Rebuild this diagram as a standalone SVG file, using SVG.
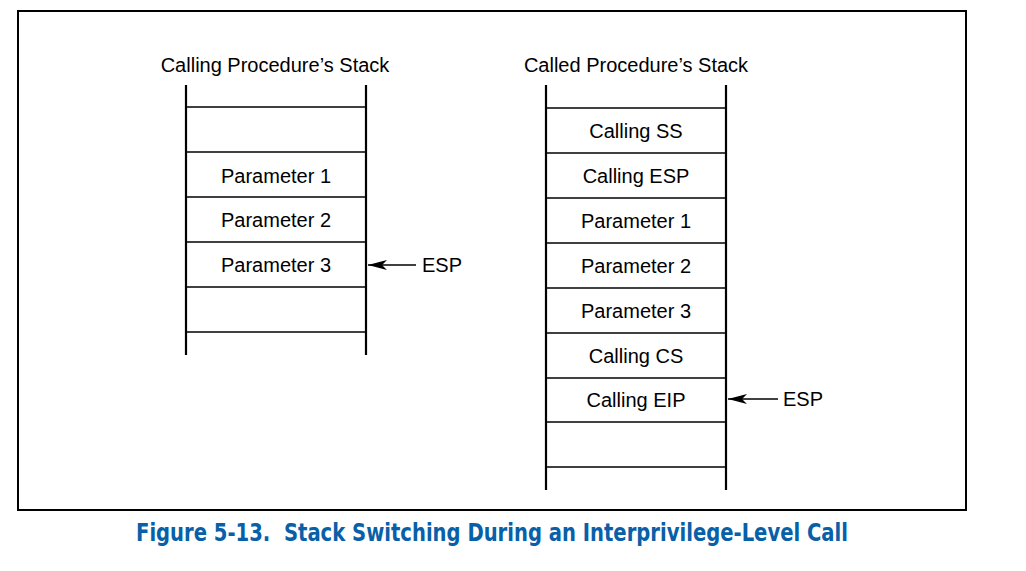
<svg xmlns="http://www.w3.org/2000/svg" width="1026" height="571" viewBox="0 0 1026 571">
<style>
.t{font-family:"Liberation Sans",Arial,sans-serif;font-size:20px;fill:#000;text-anchor:middle}
.e{font-family:"Liberation Sans",Arial,sans-serif;font-size:20px;fill:#000}
.v{stroke:#000;stroke-width:2.2;fill:none}
.h{stroke:#000;stroke-width:1.3;fill:none}
.cap{font-family:"DejaVu Sans Condensed","DejaVu Sans",sans-serif;font-weight:bold;font-size:24px;fill:#0860a8;white-space:pre}
</style>
<defs>
<marker id="ah" viewBox="0 0 19 10" refX="19" refY="5" markerWidth="19" markerHeight="10" markerUnits="userSpaceOnUse" orient="auto">
<path d="M0,0 L19,5 L0,10 L5,5 Z" fill="#000"/>
</marker>
</defs>
<rect x="18" y="11" width="948" height="499" fill="#fff" stroke="#000" stroke-width="2"/>
<g id="calling-stack">
<text class="t" x="275" y="72">Calling Procedure’s Stack</text>
<line class="v" x1="186" y1="85" x2="186" y2="355"/>
<line class="v" x1="366" y1="85" x2="366" y2="355"/>
<line class="h" x1="186" y1="107" x2="366" y2="107"/>
<line class="h" x1="186" y1="152" x2="366" y2="152"/>
<line class="h" x1="186" y1="197" x2="366" y2="197"/>
<line class="h" x1="186" y1="242" x2="366" y2="242"/>
<line class="h" x1="186" y1="287" x2="366" y2="287"/>
<line class="h" x1="186" y1="332" x2="366" y2="332"/>
<text class="t" x="276" y="183">Parameter 1</text>
<text class="t" x="276" y="227">Parameter 2</text>
<text class="t" x="276" y="272">Parameter 3</text>
</g>
<g id="called-stack">
<text class="t" x="636" y="72">Called Procedure’s Stack</text>
<line class="v" x1="546" y1="85" x2="546" y2="490"/>
<line class="v" x1="726" y1="85" x2="726" y2="490"/>
<line class="h" x1="546" y1="108" x2="726" y2="108"/>
<line class="h" x1="546" y1="153" x2="726" y2="153"/>
<line class="h" x1="546" y1="198" x2="726" y2="198"/>
<line class="h" x1="546" y1="243" x2="726" y2="243"/>
<line class="h" x1="546" y1="288" x2="726" y2="288"/>
<line class="h" x1="546" y1="333" x2="726" y2="333"/>
<line class="h" x1="546" y1="378" x2="726" y2="378"/>
<line class="h" x1="546" y1="422" x2="726" y2="422"/>
<line class="h" x1="546" y1="467" x2="726" y2="467"/>
<text class="t" x="636" y="138">Calling SS</text>
<text class="t" x="636" y="183">Calling ESP</text>
<text class="t" x="636" y="228">Parameter 1</text>
<text class="t" x="636" y="273">Parameter 2</text>
<text class="t" x="636" y="318">Parameter 3</text>
<text class="t" x="636" y="363">Calling CS</text>
<text class="t" x="636" y="407">Calling EIP</text>
</g>
<g id="esp-left">
<text class="e" x="422" y="272">ESP</text>
</g>
<g id="esp-right">
<text class="e" x="783" y="406">ESP</text>
</g>
<g id="connectors">
<line x1="416" y1="265" x2="368" y2="265" stroke="#000" stroke-width="1.3" marker-end="url(#ah)"/>
<line x1="778" y1="399" x2="728" y2="399" stroke="#000" stroke-width="1.3" marker-end="url(#ah)"/>
</g>
<text class="cap" x="136" y="541" textLength="712" lengthAdjust="spacingAndGlyphs" xml:space="preserve">Figure 5-13.  Stack Switching During an Interprivilege-Level Call</text>
</svg>
